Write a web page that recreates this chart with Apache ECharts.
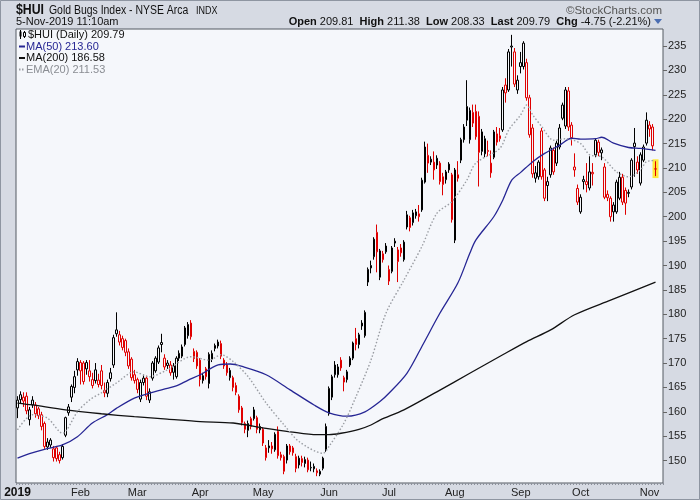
<!DOCTYPE html>
<html>
<head>
<meta charset="utf-8">
<title>$HUI Gold Bugs Index</title>
<script src="https://cdn.jsdelivr.net/npm/echarts@6/dist/echarts.min.js"></script>
<style>
  html, body { margin: 0; padding: 0; background: #d6dae3; }
  #chart { width: 700px; height: 500px; }
</style>
</head>
<body>
<div id="chart"></div>
<script>
// daily candles, one array per month: [open, close, low, high]
const jan = [
  [160.8,162.4,158.7,163.2],[162.5,163.5,161.8,164.2],[163.0,162.2,161.0,164.0],[163.2,160.2,159.5,164.0],
  [158.4,160.4,157.2,161.0],[161.4,162.4,160.8,163.2],[161.4,159.6,158.8,162.0],[160.6,159.2,158.5,161.0],
  [159.4,157.0,156.2,160.0],[157.6,152.9,152.4,158.0],[152.8,153.8,152.2,154.6],[153.2,154.2,152.6,154.6],
  [152.4,150.6,149.8,153.0],[152.6,150.4,149.8,153.0],[151.2,150.0,149.4,151.8],[150.6,152.9,150.2,153.4],
  [155.2,158.8,154.8,159.0],[159.8,161.0,159.2,161.6],[163.0,165.2,162.0,165.6],[165.0,167.2,163.8,168.4],
  [168.6,170.3,167.4,171.0]
]
const feb = [
  [170.1,168.4,165.6,170.6],[170.0,166.2,165.6,170.4],[168.8,170.1,167.6,170.6],[168.4,167.2,166.2,170.6],
  [166.6,165.4,164.8,168.0],[166.4,168.6,165.8,170.0],[165.6,166.5,165.0,167.8],[168.4,165.4,164.6,169.6],
  [164.4,163.9,163.0,166.0],[163.8,166.0,163.0,166.6],[166.8,168.0,166.2,169.0],[169.6,175.2,169.0,175.8],
  [176.0,176.8,175.4,180.4],[175.8,174.3,173.6,176.6],[175.0,173.2,172.6,175.6],[174.6,172.2,171.4,175.0],
  [172.3,169.4,168.8,173.0],[170.8,167.0,166.4,171.2],[167.6,166.4,165.8,168.6]
]
const mar = [
  [166.6,164.6,163.8,167.0],[162.6,166.0,162.0,166.6],[166.0,166.9,165.4,167.6],[166.9,163.2,162.4,167.4],
  [162.4,164.1,161.8,164.8],[166.9,170.0,166.4,170.4],[168.4,171.0,168.0,171.4],[170.2,173.1,169.8,173.6],
  [173.8,174.2,172.2,176.0],[171.0,169.2,168.6,171.8],[170.0,169.5,168.8,170.6],[169.6,168.0,167.4,170.4],
  [169.4,168.1,166.6,170.0],[167.2,171.0,166.8,171.4],[171.0,172.0,170.4,172.6],[171.4,173.3,171.0,173.8],
  [173.8,177.2,173.4,177.6],[175.6,177.9,175.0,178.4],[178.2,175.4,174.8,178.8],[172.4,170.9,170.2,173.0],
  [172.2,169.4,168.8,172.6]
]
const apr = [
  [170.6,166.6,165.2,171.0],[166.4,167.4,165.8,168.0],[168.8,167.2,166.6,169.2],[165.8,171.8,164.8,172.2],
  [170.8,172.0,170.2,172.6],[173.6,173.0,172.4,174.0],[173.5,174.3,173.0,174.8],[174.0,171.4,170.8,174.6],
  [170.6,169.4,168.8,171.0],[169.6,168.0,167.4,170.2],[167.0,168.5,166.4,169.0],[167.0,165.0,164.2,167.4],
  [165.4,164.0,163.4,166.0],[163.2,160.4,159.8,163.6],[160.8,157.8,157.2,161.2],[157.6,156.4,155.6,158.0],
  [156.2,157.6,154.8,158.2],[158.6,157.0,156.4,159.0],[158.6,160.4,158.2,161.0],[158.8,156.4,155.6,159.2],
  [156.3,157.0,155.6,157.6]
]
const may = [
  [156.4,153.6,153.0,156.8],[152.6,150.6,150.0,153.2],[152.6,153.0,151.6,154.2],[153.0,152.4,151.4,153.8],
  [152.2,155.4,151.8,155.8],[156.0,151.0,150.4,157.0],[151.2,150.6,150.0,151.8],[150.8,147.8,147.2,151.2],
  [150.1,153.0,149.4,153.4],[153.0,151.8,151.2,153.4],[152.6,151.6,151.0,153.0],[150.8,148.4,147.6,151.4],
  [149.1,150.5,148.4,151.0],[150.4,149.6,148.8,151.0],[149.4,150.2,148.6,150.8],[150.1,148.1,147.6,150.6],
  [148.6,148.5,147.8,149.8],[148.3,148.8,147.6,149.4],[147.9,147.5,146.8,148.4],[147.2,147.8,146.8,148.2],
  [148.4,150.5,148.0,150.8],[152.2,157.0,151.8,157.6]
]
const jun = [
  [159.6,164.8,159.2,165.2],[163.0,167.2,162.4,167.6],[169.6,167.6,167.0,170.4],[167.6,169.2,167.0,169.8],
  [170.6,169.0,168.4,171.2],[166.1,167.0,164.2,167.4],[166.6,168.2,166.0,168.6],[169.6,171.0,169.2,171.4],
  [171.0,174.1,170.6,174.4],[175.0,173.8,172.6,177.2],[173.8,175.8,173.0,176.2],[178.2,177.6,176.8,178.8],
  [175.6,180.4,175.2,180.8],[186.6,189.2,185.8,189.6],[189.5,190.0,188.4,191.0],[191.8,195.4,191.2,195.8],
  [196.8,192.8,188.6,198.4],[187.6,193.0,187.0,193.4],[191.2,192.4,190.6,193.0],[192.8,194.0,192.4,194.6]
]
const jul = [
  [189.2,186.8,186.0,190.0],[188.8,193.6,188.4,194.0],[195.0,194.6,193.8,195.6],[190.8,193.2,186.6,193.8],
  [193.6,192.6,191.8,194.4],[191.2,194.8,190.8,195.2],[197.9,200.4,197.4,201.2],[199.8,197.8,197.0,200.2],
  [198.8,200.8,198.2,201.4],[200.2,201.0,199.6,201.6],[200.0,200.6,199.0,202.4],[201.4,207.5,201.0,208.0],
  [207.1,214.3,206.8,215.4],[212.6,211.0,209.0,215.0],[211.2,211.8,210.6,212.4],[211.2,209.6,207.6,213.4],
  [210.6,212.0,209.8,212.6],[211.0,207.2,206.6,211.4],[208.2,206.6,204.4,209.0],[207.6,209.2,206.8,209.6],
  [209.6,210.8,209.0,211.2],[208.6,199.4,198.8,209.0]
]
const aug = [
  [195.2,209.6,194.6,210.0],[207.9,208.6,207.2,211.4],[211.6,215.8,211.0,216.2],[215.8,218.4,215.2,219.0],
  [222.6,219.8,218.6,228.0],[215.8,221.8,215.0,222.4],[221.4,219.2,218.4,223.0],[221.6,216.4,215.8,223.0],
  [220.6,213.2,206.2,221.6],[217.4,213.4,212.6,218.0],[212.9,216.0,212.2,216.6],[213.6,213.4,212.4,215.6],
  [209.0,211.0,208.0,213.6],[212.2,217.4,211.8,217.8],[215.3,217.0,214.6,218.4],[216.6,216.0,215.4,218.2],
  [217.8,226.0,217.4,226.6],[227.0,225.4,223.4,228.4],[226.0,233.8,225.6,234.4],[235.0,234.8,230.8,237.3],
  [233.8,227.2,226.6,234.6],[226.0,228.0,225.2,229.0]
]
const sep = [
  [230.8,231.6,229.4,233.8],[230.8,235.6,230.2,236.0],[231.6,224.4,223.8,232.4],[224.4,216.8,216.2,225.0],
  [218.2,208.8,208.0,219.0],[207.9,209.0,207.0,210.4],[208.2,211.2,207.6,211.6],[217.6,208.2,207.6,218.2],
  [209.6,203.8,203.2,210.0],[206.4,207.2,203.2,208.2],[208.6,214.1,208.0,214.6],[213.6,209.2,208.6,214.2],
  [211.0,215.1,210.4,215.6],[214.3,218.2,213.8,219.0],[220.2,222.9,219.8,223.4],[218.6,226.0,218.0,226.6],
  [225.8,218.4,217.6,226.6],[218.8,216.2,214.6,219.4],[209.6,210.2,208.2,213.0],[205.8,203.0,202.4,206.6]
]
const oct = [
  [201.0,204.0,200.6,204.6],[207.6,207.2,205.6,208.4],[207.2,206.6,205.0,211.0],[205.9,209.2,205.4,212.4],
  [208.8,209.1,206.4,211.0],[212.7,215.7,212.2,216.0],[215.3,213.2,212.4,215.8],[213.1,213.7,211.6,214.2],
  [210.2,204.0,203.6,211.0],[204.6,203.9,203.2,205.4],[203.8,200.0,199.0,204.2],[201.0,202.4,199.0,203.0],
  [201.0,207.1,200.6,207.6],[203.8,208.1,203.4,209.2],[208.1,203.0,202.4,208.8],[205.4,202.8,200.4,206.0],
  [205.0,204.8,204.0,205.6],[206.1,211.6,205.6,212.0],[215.1,214.4,208.2,218.2],[211.2,209.6,208.8,212.4],
  [206.9,212.7,206.4,213.2],[211.6,214.3,211.2,214.8],[215.1,219.8,214.6,221.4]
]
const nov = [
  [218.8,218.0,216.4,219.6],[218.4,214.54,213.6,219.0],[209.81,209.79,208.33,211.38]
]

// overlays: [trading-day index, value]
const ma50Pts = [
  [0,150.5],[4,151.4],[9,152.3],[15,153.2],[20,154.9],[25,157.7],[30,159.4],[33,160.7],[39,162.8],
  [44,163.8],[50,164.8],[53,165.3],[57,166.5],[61,167.6],[67,169.6],[71,169.8],[75,169.3],[83,167.6],
  [91,164.5],[99,161.4],[104,159.8],[110,159.1],[116,160.0],[121,162.1],[124,163.8],[130,167.9],
  [135,173.4],[141,180.2],[147,186.4],[151,192.5],[153,195.2],[159,200.0],[162,203.4],[165,207.5],
  [168,209.1],[172,211.3],[176,213.0],[181,214.7],[185,216.1],[188,215.9],[193,216.0],[195,216.3],
  [199,215.1],[204,214.2],[208,214.0],[213,213.60]
]
const ma200Pts = [
  [0,161.8],[5,161.4],[16,160.4],[28,159.6],[39,159.0],[50,158.5],[61,158.0],[72,157.7],[83,156.6],
  [91,155.9],[100,155.3],[104,155.3],[108,155.6],[114,156.4],[118,157.3],[121,158.3],[129,160.4],
  [140,164.1],[151,167.9],[162,171.7],[170,174.4],[178,176.8],[186,179.9],[198,182.9],[213,186.58]
]
const ema20Pts = [
  [0,156.3],[5,159.4],[10,158.7],[15,155.6],[20,160.0],[24,162.4],[28,163.9],[33,165.9],[39,168.2],
  [44,167.2],[50,168.6],[58,171.3],[64,170.6],[68,171.7],[72,170.3],[77,167.2],[83,161.8],[89,157.3],
  [94,153.9],[102,151.5],[104,152.9],[109,157.7],[113,163.1],[118,170.6],[123,180.2],[129,187.0],
  [135,193.9],[140,200.7],[145,203.1],[150,207.5],[153,211.0],[161,214.0],[164,217.8],[168,220.9],
  [170,222.9],[172,220.9],[175,218.5],[179,215.7],[183,216.0],[188,215.0],[191,212.7],[195,212.3],
  [200,209.2],[204,208.2],[208,209.6],[210,211.3],[213,211.53]
]

const yTicks = [150,155,160,165,170,175,180,185,190,195,200,205,210,215,220,225,230,235]
const holidays = ['2019-01-21','2019-02-18','2019-04-19','2019-05-27','2019-07-04','2019-09-02']
const monthNames = ['Jan','Feb','Mar','Apr','May','Jun','Jul','Aug','Sep','Oct','Nov','Dec']

const FONT = 'Liberation Sans, Arial, sans-serif'
const RED = '#e00000'
const PLOT_BG = '#f5f7fb'

// weekdays minus exchange holidays, two empty slots past the last bar
function tradingDays(from, to) {
  const out = []
  for (let t = from; t <= to; t += 86400000) {
    const d = new Date(t)
    const wd = d.getUTCDay()
    const iso = d.toISOString().slice(0, 10)
    if (wd === 0 || wd === 6 || holidays.includes(iso)) continue
    out.push(d)
  }
  return out
}

const days = tradingDays(Date.UTC(2019, 0, 2), Date.UTC(2019, 10, 7))
const dateLabels = days.map((d) => d.toISOString().slice(0, 10))
const monthStart = new Set()
days.forEach((d, i) => {
  if (i === 0 || d.getUTCMonth() !== days[i - 1].getUTCMonth()) monthStart.add(i)
})

const candles = [].concat(jan, feb, mar, apr, may, jun, jul, aug, sep, oct, nov)
const candleItems = candles.map((c, i) => {
  const prev = i ? candles[i - 1][1] : c[0]
  const col = c[1] >= prev ? '#000' : RED
  return { value: c, itemStyle: { color: PLOT_BG, color0: col, borderColor: col, borderColor0: col } }
})

const last = candles[candles.length - 1]
const prevClose = candles[candles.length - 2][1]
const chg = last[1] - prevClose
const chgPct = (chg / prevClose) * 100
const lastIdx = candles.length - 1

// yellow marker behind the live bar
const hlBase = dateLabels.map((_, i) => (i === lastIdx ? last[2] - 0.4 : '-'))
const hlSpan = dateLabels.map((_, i) => (i === lastIdx ? last[3] - last[2] + 0.8 : '-'))

const lastOf = (pts) => pts[pts.length - 1][1].toFixed(2)

const txt = (x, y, text, font, fill, align, sx) => ({
  type: 'text', x, y, scaleX: sx || 1, silent: true, z: 100,
  style: { text, font, fill: fill || '#111', align: align || 'left', verticalAlign: 'middle' },
})

const chart = echarts.init(document.getElementById('chart'))
chart.setOption({
  animation: false,
  backgroundColor: '#d6dae3',
  grid: {
    left: 16, right: 37, top: 29, bottom: 17,
    show: true, backgroundColor: PLOT_BG, borderColor: '#555a63', borderWidth: 1,
  },
  xAxis: {
    type: 'category',
    data: dateLabels,
    boundaryGap: true,
    axisLine: { show: false },
    axisTick: { show: true, interval: 0, length: 2, lineStyle: { color: '#8c919b' } },
    axisLabel: {
      interval: (i) => monthStart.has(i),
      formatter: (v, i) => (i === 0 ? '{y|2019}' : monthNames[new Date(v).getUTCMonth()]),
      color: '#222', fontSize: 11, fontFamily: FONT, margin: 4,
      rich: { y: { fontWeight: 'bold', fontSize: 12, fontFamily: FONT, color: '#111' } },
    },
    splitLine: { show: false },
  },
  yAxis: {
    type: 'value',
    position: 'right',
    min: 145.4,
    max: 238.5,
    splitLine: { show: false },
    axisLine: { show: false },
    axisTick: { show: true, customValues: yTicks, length: 4, lineStyle: { color: '#666' } },
    axisLabel: { customValues: yTicks, color: '#222', fontSize: 11, fontFamily: FONT, margin: 5 },
  },
  series: [
    {
      type: 'bar', stack: 'hl', data: hlBase, barWidth: 6, silent: true,
      itemStyle: { color: 'rgba(0,0,0,0)' },
    },
    {
      type: 'bar', stack: 'hl', data: hlSpan, barWidth: 6, silent: true,
      itemStyle: { color: '#ffe83a' },
    },
    {
      type: 'candlestick', name: '$HUI', data: candleItems, barWidth: 2,
      itemStyle: { borderWidth: 1 },
    },
    {
      type: 'line', name: 'MA(50)', data: ma50Pts, symbol: 'none', smooth: 0.3,
      lineStyle: { color: '#262694', width: 1.3 },
    },
    {
      type: 'line', name: 'MA(200)', data: ma200Pts, symbol: 'none', smooth: 0.3,
      lineStyle: { color: '#111', width: 1.3 },
    },
    {
      type: 'line', name: 'EMA(20)', data: ema20Pts, symbol: 'none', smooth: 0.3,
      lineStyle: { color: '#9a9da3', width: 1.4, type: [1.5, 2] },
    },
  ],
  graphic: [
    { type: 'rect', shape: { x: 0.5, y: 0.5, width: 699, height: 499 }, style: { fill: 'none', stroke: '#8e95a1' }, silent: true },
    txt(16, 10, '$HUI', 'bold 15px ' + FONT, '#111', 'left', 0.82),
    txt(49, 10.5, 'Gold Bugs Index - NYSE Arca', '12px ' + FONT, '#111', 'left', 0.87),
    txt(196, 11, 'INDX', '10px ' + FONT, '#111', 'left', 0.9),
    txt(662, 10.5, '\u00a9StockCharts.com', '11.5px ' + FONT, '#555', 'right'),
    txt(16, 21.5, '5-Nov-2019 11:10am', '11px ' + FONT),
    {
      type: 'text', x: 651, y: 21.5, silent: true, z: 100,
      style: {
        text: '{b|Open} ' + last[0].toFixed(2) + '  {b|High} ' + last[3].toFixed(2) +
          '  {b|Low} ' + last[2].toFixed(2) + '  {b|Last} ' + last[1].toFixed(2) +
          '  {b|Chg} ' + chg.toFixed(2) + ' (' + chgPct.toFixed(2) + '%)',
        font: '11px ' + FONT, fill: '#111', align: 'right', verticalAlign: 'middle',
        rich: { b: { font: 'bold 11px ' + FONT, fill: '#111' } },
      },
    },
    { type: 'polygon', shape: { points: [[654, 19], [662, 19], [658, 24]] }, style: { fill: '#4a6db2' }, silent: true, z: 100 },
    // legend block
    { type: 'line', shape: { x1: 20.5, y1: 30, x2: 20.5, y2: 39 }, style: { stroke: '#000' }, silent: true, z: 100 },
    { type: 'rect', shape: { x: 19.5, y: 31.5, width: 2, height: 5 }, style: { fill: '#000' }, silent: true, z: 100 },
    { type: 'line', shape: { x1: 24.5, y1: 31, x2: 24.5, y2: 38 }, style: { stroke: '#000' }, silent: true, z: 100 },
    { type: 'rect', shape: { x: 23.5, y: 32.5, width: 2, height: 4 }, style: { fill: PLOT_BG, stroke: '#000' }, silent: true, z: 100 },
    txt(28, 35, '$HUI (Daily) ' + last[1].toFixed(2), '11px ' + FONT, '#111'),
    { type: 'line', shape: { x1: 19, y1: 46.5, x2: 25, y2: 46.5 }, style: { stroke: '#262694', lineWidth: 2 }, silent: true, z: 100 },
    txt(26, 46.5, 'MA(50) ' + lastOf(ma50Pts), '11px ' + FONT, '#262694'),
    { type: 'line', shape: { x1: 19, y1: 58, x2: 25, y2: 58 }, style: { stroke: '#111', lineWidth: 2 }, silent: true, z: 100 },
    txt(26, 58, 'MA(200) ' + lastOf(ma200Pts), '11px ' + FONT, '#111'),
    { type: 'line', shape: { x1: 19, y1: 69.5, x2: 25, y2: 69.5 }, style: { stroke: '#9a9da3', lineWidth: 2, lineDash: [1.5, 1.5] }, silent: true, z: 100 },
    txt(26, 69.5, 'EMA(20) ' + lastOf(ema20Pts), '11px ' + FONT, '#8a8d93'),
  ],
})
</script>
</body>
</html>
